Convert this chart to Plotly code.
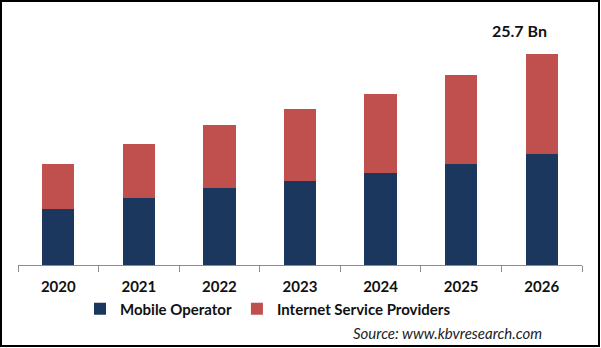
import plotly.graph_objects as go

years = ["2020", "2021", "2022", "2023", "2024", "2025", "2026"]
mobile_operator = [6.8, 8.2, 9.4, 10.2, 11.2, 12.3, 13.5]
isp = [5.5, 6.5, 7.7, 8.8, 9.6, 10.8, 12.2]
total_label = "25.7 Bn"

W, H = 601, 348
L, R, T, B = 18, 19, 20, 83
pw, ph = W - L - R, H - T - B

NAVY = "#1C375E"
RED = "#C0504D"

fig = go.Figure()
fig.add_trace(go.Bar(x=years, y=mobile_operator, name="Mobile Operator",
                     marker=dict(color=NAVY, line=dict(width=0)), width=0.4))
fig.add_trace(go.Bar(x=years, y=isp, name="Internet Service Providers",
                     marker=dict(color=RED, line=dict(width=0)), width=0.4))

fig.add_annotation(x=len(years) - 1, y=mobile_operator[-1] + isp[-1], text="<b>" + total_label + "</b>",
                   showarrow=False, yanchor="bottom", xshift=-22, yshift=12,
                   font=dict(family="Lato", size=16, color="#111"))

fig.add_annotation(xref="paper", yref="paper", x=(544 - L) / pw, y=(T + ph - 333) / ph,
                   xanchor="right", yanchor="middle", showarrow=False,
                   text="<i>Source: www.kbvresearch.com</i>",
                   font=dict(family="Lato", size=15, color="#222"))

# outer border
fig.add_shape(type="rect", xref="paper", yref="paper",
              x0=(1 - L) / pw, x1=(599 - L) / pw,
              y0=(T + ph - 346) / ph, y1=(T + ph - 1) / ph,
              line=dict(color="black", width=2))

fig.update_layout(
    width=W, height=H, barmode="stack", bargap=0.6,
    margin=dict(l=L, r=R, t=T, b=B),
    paper_bgcolor="white", plot_bgcolor="white",
    showlegend=True,
    legend=dict(orientation="h", x=(80 - L) / pw, y=(T + ph - 309) / ph,
                xanchor="left", yanchor="middle",
                font=dict(family="Lato", size=15, color="#111", weight="bold"),
                traceorder="normal"),
    xaxis=dict(type="category", range=[-0.5, len(years) - 0.5], showline=True,
               linecolor="#8c8c8c", linewidth=1,
               ticks="outside", tickson="boundaries", ticklen=6, tickcolor="#8c8c8c",
               ticklabelstandoff=8,
               tickfont=dict(family="Lato", size=15, color="#111", weight="bold"),
               showgrid=False),
    yaxis=dict(range=[0, ph / 8.21], visible=False, showgrid=False),
)

fig.write_html("out.html")
